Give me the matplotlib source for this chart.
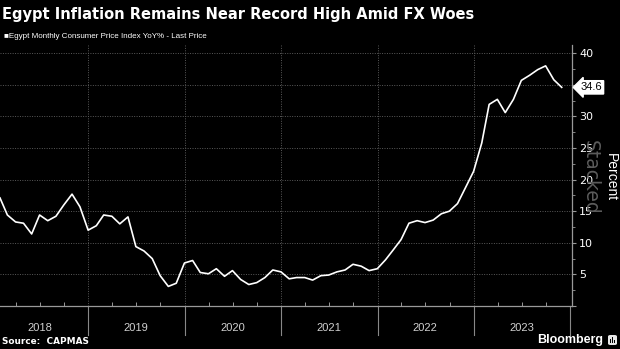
import numpy as np
import pandas as pd
import matplotlib
matplotlib.use("Agg")
import matplotlib.pyplot as plt
import matplotlib.dates as mdates
from matplotlib.patches import FancyBboxPatch, Rectangle
from matplotlib.ticker import MultipleLocator, FixedLocator

# =====================================================================
# =============== DATA ================================================
# =====================================================================

# Egypt monthly CPI YoY %, Jan 2018 .. Nov 2023 (plotted at month end)
start_month = "2018-01-31"
cpi_2018 = [17.1, 14.4, 13.3, 13.1, 11.4, 14.4, 13.5, 14.2, 16.0, 17.7, 15.7, 12.0]
cpi_2019 = [12.7, 14.4, 14.2, 13.0, 14.1, 9.4, 8.7, 7.5, 4.8, 3.1, 3.6, 6.8]
cpi_2020 = [7.2, 5.3, 5.1, 5.9, 4.7, 5.6, 4.2, 3.4, 3.7, 4.5, 5.7, 5.4]
cpi_2021 = [4.3, 4.5, 4.5, 4.1, 4.8, 4.9, 5.4, 5.7, 6.6, 6.3, 5.6, 5.9]
cpi_2022 = [7.3, 8.8, 10.5, 13.1, 13.5, 13.2, 13.6, 14.6, 15.0, 16.2, 18.7, 21.3]
cpi_2023 = [25.8, 31.9, 32.7, 30.6, 32.7, 35.7, 36.5, 37.4, 38.0, 35.8, 34.6]

years = ["2018", "2019", "2020", "2021", "2022", "2023"]
y_ticks = [0, 5, 10, 15, 20, 25, 30, 35, 40]
y_labels = ["", "5", "10", "15", "20", "25", "30", "", "40"]
last_label = "34.6"

values = cpi_2018 + cpi_2019 + cpi_2020 + cpi_2021 + cpi_2022 + cpi_2023
dates = pd.date_range(start=start_month, periods=len(values), freq="ME")

# =====================================================================
# =============== FIGURE ==============================================
# =====================================================================

W, H = 620, 349
fig = plt.figure(figsize=(W / 100, H / 100), dpi=100, facecolor="black")

ax_left, ax_right, ax_top, ax_bot = 0, 572, 45, 306
ax = fig.add_axes([ax_left / W, 1 - ax_bot / H, (ax_right - ax_left) / W, (ax_bot - ax_top) / H])
ax.set_facecolor("black")

ax.plot(dates, values, color="white", linewidth=1.2, solid_joinstyle="round")

ax.set_xlim(pd.Timestamp("2018-01-31"), pd.Timestamp("2024-01-08"))
ax.set_ylim(0, 41.3)

# right-hand y axis
ax.yaxis.tick_right()
ax.yaxis.set_major_locator(FixedLocator(y_ticks))
ax.set_yticklabels(y_labels)
ax.yaxis.set_minor_locator(MultipleLocator(2.5))
ax.tick_params(axis="y", which="major", colors="#999999", labelcolor="white",
               length=3, width=0.8, pad=2, labelsize=8)
ax.tick_params(axis="y", which="minor", colors="#999999", length=2, width=0.6)

# x axis: year grid, quarter ticks, year labels drawn by hand
year_starts = [pd.Timestamp(f"{int(y) + 1}-01-01") for y in years]
ax.xaxis.set_major_locator(FixedLocator(mdates.date2num(year_starts[:-1])))
ax.xaxis.set_minor_locator(mdates.MonthLocator(bymonth=[4, 7, 10]))
ax.set_xticklabels([])
ax.tick_params(axis="x", which="major", length=0)
ax.tick_params(axis="x", which="minor", direction="in", length=3, width=0.7, colors="#999999")

for s in ["top", "left"]:
    ax.spines[s].set_visible(False)
ax.spines["bottom"].set_color("#999999")
ax.spines["right"].set_color("#999999")
ax.spines["bottom"].set_linewidth(0.9)
ax.spines["right"].set_linewidth(0.9)

# dotted grid
for yv in y_ticks[1:]:
    ax.axhline(yv, color="#5a5a5a", linestyle=(0, (1, 1.5)), linewidth=0.7, zorder=0)
for d in year_starts[:-1]:
    ax.axvline(d, color="#5a5a5a", linestyle=(0, (1, 1.5)), linewidth=0.7, zorder=0)

# year separators and labels under the axis
sep_len = (335 - ax_bot) / (ax_bot - ax_top)
trans = ax.get_xaxis_transform()
for d in year_starts:
    ax.plot([d, d], [0, -sep_len], color="#888888", linewidth=0.8,
            transform=trans, clip_on=False)
for y in years:
    ax.text(pd.Timestamp(f"{y}-07-01"), -(328 - ax_bot) / (ax_bot - ax_top), y,
            transform=trans, ha="center", va="center", color="#d0d0d0", fontsize=8,
            family="Liberation Sans")

# last price tag
ax.annotate(last_label, xy=(1.0, values[-1]), xycoords=("axes fraction", "data"),
            xytext=(6, 0), textcoords="offset points", ha="left", va="center",
            fontsize=8, color="black", family="Liberation Sans",
            bbox=dict(boxstyle="larrow,pad=0.15", facecolor="white", edgecolor="white"))

# =====================================================================
# =============== TEXT ================================================
# =====================================================================

fig.text(2 / W, 1 - 14 / H, "Egypt Inflation Remains Near Record High Amid FX Woes",
         color="white", fontsize=10.5, fontweight="bold", ha="left", va="center",
         family="DejaVu Sans")
fig.text(4 / W, 1 - 36 / H, "\u25a0Egypt Monthly Consumer Price Index YoY% - Last Price",
         color="white", fontsize=5.8, ha="left", va="center",
         family=["Liberation Sans", "DejaVu Sans"])
fig.text(590 / W, 1 - 177 / H, "Stacked", color="#5c5c5c", fontsize=13.5,
         rotation=270, ha="center", va="center", family="DejaVu Sans")
fig.text(611 / W, 1 - 177 / H, "Percent", color="white", fontsize=10,
         rotation=270, ha="center", va="center", family="Liberation Sans")
fig.text(2 / W, 1 - 342 / H, "Source:  CAPMAS", color="white", fontsize=6.4,
         fontweight="bold", ha="left", va="center", family="DejaVu Sans")
fig.text(603 / W, 1 - 340 / H, "Bloomberg", color="white", fontsize=9,
         fontweight="bold", ha="right", va="center", family="Liberation Sans")

# small Bloomberg logo square
fig.add_artist(FancyBboxPatch((608 / W, 1 - 345 / H), 9 / W, 10 / H,
                              boxstyle="round,pad=0,rounding_size=0.004",
                              facecolor="#e8e8e8", edgecolor="none",
                              transform=fig.transFigure))
for bx, bh in zip([610, 612, 614], [4, 6, 3]):
    fig.add_artist(Rectangle((bx / W, 1 - 343 / H), 1.2 / W, bh / H,
                             facecolor="black", edgecolor="none",
                             transform=fig.transFigure))

fig.savefig("out.png", dpi=100, facecolor="black")
